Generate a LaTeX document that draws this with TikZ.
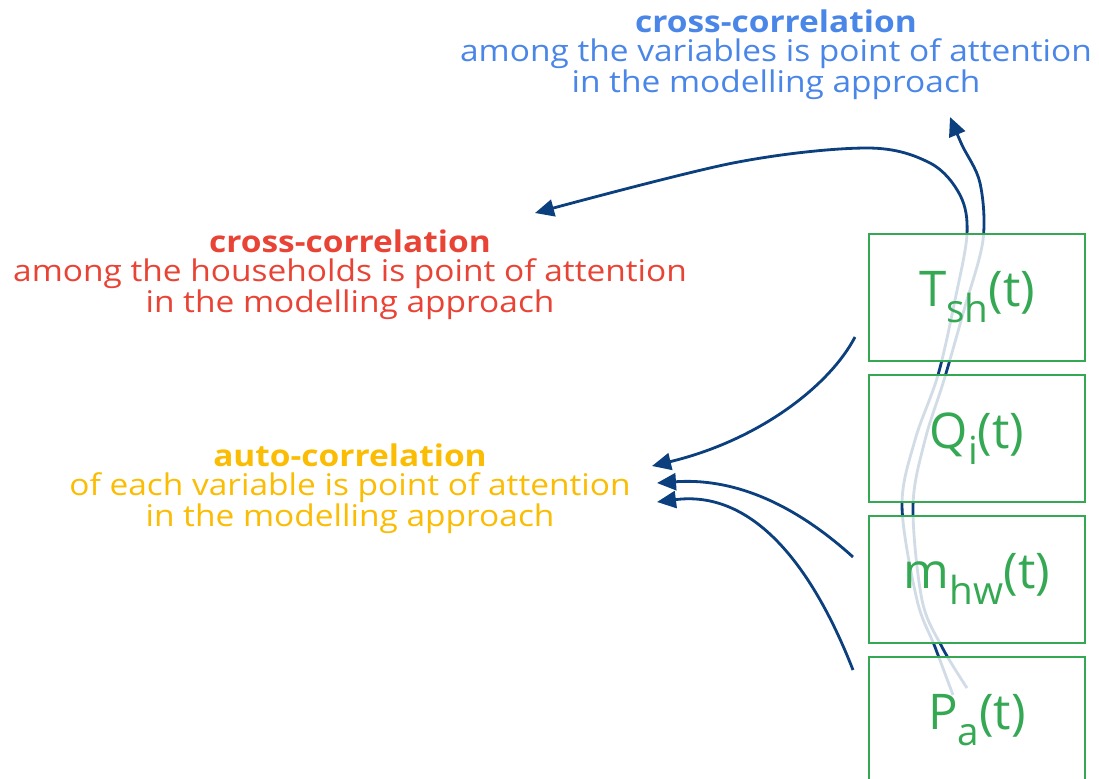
\documentclass[tikz,border=0pt]{standalone}
\usepackage{fontspec}
\setmainfont{Open Sans}
\newfontfamily\notefont{Open Sans}[FakeStretch=1.12]
\usetikzlibrary{arrows.meta,positioning}

\definecolor{topBlue}{HTML}{4A86E8}
\definecolor{houseRed}{HTML}{E94335}
\definecolor{autoYellow}{HTML}{FBBC04}
\definecolor{varGreen}{HTML}{34A853}
\definecolor{linkBlue}{HTML}{0B3F7E}

\newcommand{\varsub}[1]{\raisebox{-0.6ex}{\fontsize{22}{22}\selectfont #1}}

\begin{document}
\begin{tikzpicture}[
  x=0.02cm, y=-0.02cm,
  varBox/.style={rectangle, draw=varGreen, line width=1.1pt, fill=white, fill opacity=0.82,
    text opacity=1, text=varGreen, minimum width=4.32cm, minimum height=2.54cm,
    inner sep=0pt, font=\fontsize{28}{30}\selectfont},
  note/.style={align=center, anchor=north, inner sep=0pt, font=\notefont\fontsize{17}{16.5}\selectfont},
  link/.style={-{Triangle[length=0.38cm, width=0.34cm]}, line width=1.6pt, draw=linkBlue}
]
  \useasboundingbox (0,0) rectangle (1099,778);

  % notes
  \node[note, text=topBlue] (varNote) at (776,9)
    {\textbf{cross-correlation}\\among the variables is point of attention\\in the modelling approach};
  \node[note, text=houseRed] (houseNote) at (350,229)
    {\textbf{cross-correlation}\\among the households is point of attention\\in the modelling approach};
  \node[note, text=autoYellow] (autoNote) at (350,443)
    {\textbf{auto-correlation}\\of each variable is point of attention\\in the modelling approach};

  % free ends of the connectors
  \coordinate (toVar) at (950,117);
  \coordinate (toHouse) at (535,213);
  \coordinate (toAutoA) at (652,466);
  \coordinate (toAutoB) at (657,483);
  \coordinate (toAutoC) at (657,502);
  \coordinate (fromPaA) at (967,688);
  \coordinate (fromPaB) at (953,695);
  \coordinate (fromTsh) at (855,337);
  \coordinate (fromMhw) at (853,557);
  \coordinate (fromPa) at (853,670);

  \draw[link] plot[smooth, tension=0.55] coordinates {(fromPaA) (942,647) (922,600) (913,506)
    (925,440) (944,380) (964,310) (983,240) (980,183) (962,145) (toVar)};
  \draw[link] plot[smooth, tension=0.55] coordinates {(fromPaB) (935,647) (917,600) (902,506)
    (915,440) (938,375) (955,300) (967,234) (960,195) (930,163) (867,148) (733,163) (toHouse)};
  \draw[link] (fromTsh) .. controls (830,385) and (760,440) .. (toAutoA);
  \draw[link] (fromMhw) .. controls (790,500) and (730,478) .. (toAutoB);
  \draw[link] (fromPa) .. controls (810,560) and (750,490) .. (toAutoC);

  % variables
  \node[varBox] (tsh) at (977,297.5) {T\varsub{sh}(t)};
  \node[varBox, below=0.24cm of tsh] (qi) {Q\varsub{i}(t)};
  \node[varBox, below=0.24cm of qi] (mhw) {m\varsub{hw}(t)};
  \node[varBox, below=0.24cm of mhw] (pa) {P\varsub{a}(t)};
\end{tikzpicture}
\end{document}
